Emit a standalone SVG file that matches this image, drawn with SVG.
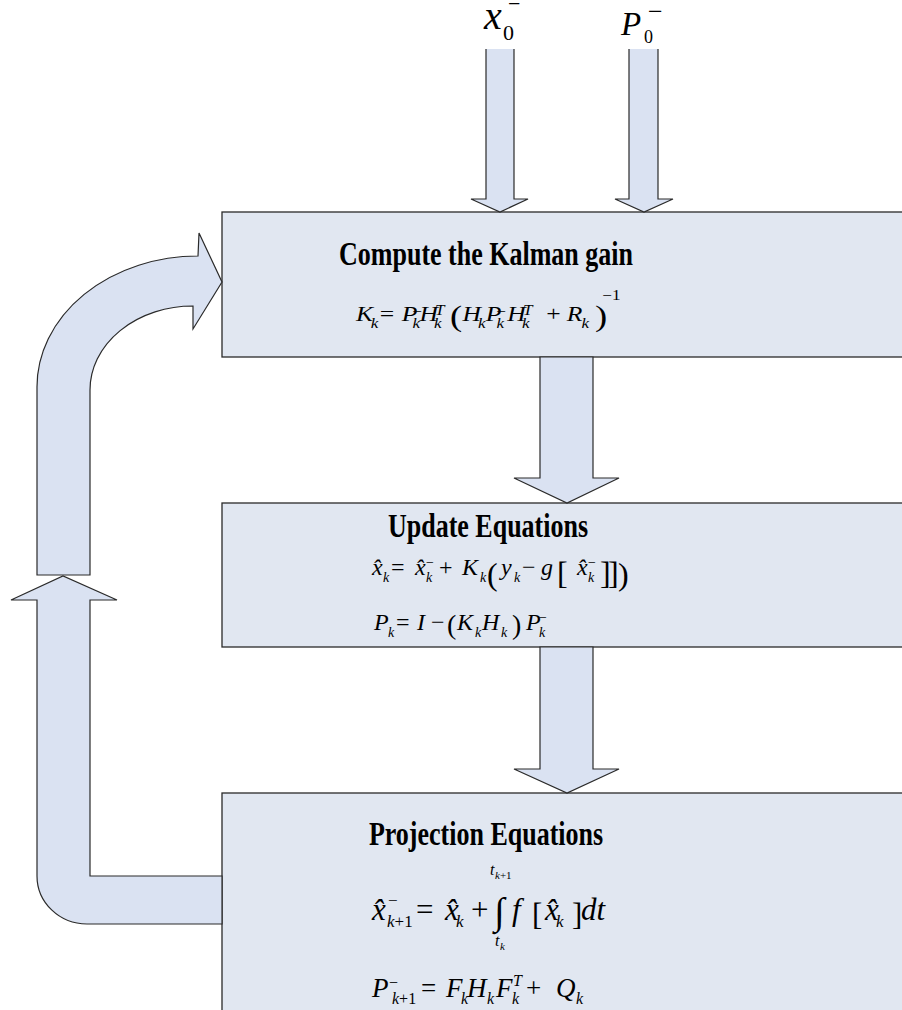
<svg xmlns="http://www.w3.org/2000/svg" width="902" height="1010" viewBox="0 0 902 1010">
<style>
.box{fill:#E1E7F1;stroke:#2a2a2a;stroke-width:1.3}
.arr{fill:#DAE2F2;stroke:#2a2a2a;stroke-width:1.2;stroke-linejoin:miter}
.fill{fill:#DAE2F2;stroke:none}
.line{fill:none;stroke:#2a2a2a;stroke-width:1.2}
text{font-family:"Liberation Serif","Times New Roman",serif;fill:#000}
.i{font-style:italic}
.b{font-weight:bold}
.r{font-style:normal}
</style>
<rect width="902" height="1010" fill="#fff"/>

<g id="box-gain">
<rect class="box" x="222" y="212" width="700" height="145"/>
<text class="b" font-size="26" text-anchor="middle" transform="translate(486,265) scale(1,1.28)">Compute the Kalman gain</text>
<text class="i" font-size="21" transform="translate(356,321) scale(1.22,1)">
<tspan x="0" y="0">K</tspan><tspan x="12" y="7" font-size="14">k</tspan>
<tspan x="19.5" y="0" class="r">=</tspan>
<tspan x="37.6" y="0">P</tspan><tspan x="46.4" y="-5" font-size="14" class="r">−</tspan><tspan x="46.4" y="7" font-size="14">k</tspan>
<tspan x="52" y="0">H</tspan><tspan x="64.8" y="-6" font-size="14">T</tspan><tspan x="64" y="7" font-size="14">k</tspan>
<tspan x="77" y="5" font-size="30" class="r">(</tspan>
<tspan x="87.2" y="0">H</tspan><tspan x="100" y="7" font-size="14">k</tspan>
<tspan x="106.4" y="0">P</tspan><tspan x="115.2" y="-5" font-size="14" class="r">−</tspan><tspan x="115.2" y="7" font-size="14">k</tspan>
<tspan x="124" y="0">H</tspan><tspan x="136.8" y="-6" font-size="14">T</tspan><tspan x="136" y="7" font-size="14">k</tspan>
<tspan x="156" y="0" class="r">+</tspan>
<tspan x="172.8" y="0">R</tspan><tspan x="184.8" y="7" font-size="14">k</tspan>
<tspan x="196" y="5" font-size="30" class="r">)</tspan>
<tspan x="202" y="-21" font-size="14" class="r">−1</tspan>
</text>
</g>

<g id="box-update">
<rect class="box" x="222" y="503" width="700" height="144"/>
<text class="b" font-size="26" text-anchor="middle" transform="translate(488,537) scale(1,1.28)">Update Equations</text>
<text class="i" font-size="24">
<tspan x="372" y="575">x̂</tspan><tspan x="383" y="582" font-size="14">k</tspan>
<tspan x="391" y="575" class="r">=</tspan>
<tspan x="415" y="575">x̂</tspan><tspan x="426" y="567" font-size="14" class="r">−</tspan><tspan x="426" y="582" font-size="14">k</tspan>
<tspan x="439" y="575" class="r">+</tspan>
<tspan x="462" y="575">K</tspan><tspan x="480" y="582" font-size="14">k</tspan>
<tspan x="487" y="585" font-size="32" class="r">(</tspan>
<tspan x="501" y="575">y</tspan><tspan x="514" y="582" font-size="14">k</tspan>
<tspan x="522" y="575" class="r">−</tspan>
<tspan x="541" y="575">g</tspan>
<tspan x="557" y="584" font-size="32" class="r">[</tspan>
<tspan x="577" y="575">x̂</tspan><tspan x="588" y="567" font-size="14" class="r">−</tspan><tspan x="588" y="582" font-size="14">k</tspan>
<tspan x="600" y="584" font-size="32" class="r">]</tspan><tspan x="608" y="584" font-size="32" class="r">]</tspan><tspan x="618" y="585" font-size="32" class="r">)</tspan>
</text>
<text class="i" font-size="24">
<tspan x="374" y="630">P</tspan><tspan x="388" y="637" font-size="14">k</tspan>
<tspan x="396" y="630" class="r">=</tspan>
<tspan x="417" y="630">I</tspan>
<tspan x="431" y="630" class="r">−</tspan>
<tspan x="447" y="634" font-size="28" class="r">(</tspan>
<tspan x="457" y="630">K</tspan><tspan x="475" y="637" font-size="14">k</tspan>
<tspan x="482" y="630">H</tspan><tspan x="501" y="637" font-size="14">k</tspan>
<tspan x="512" y="634" font-size="28" class="r">)</tspan>
<tspan x="526" y="630">P</tspan><tspan x="539" y="622" font-size="14" class="r">−</tspan><tspan x="539" y="637" font-size="14">k</tspan>
</text>
</g>

<g id="box-projection">
<rect class="box" x="222" y="793" width="700" height="240"/>
<text class="b" font-size="26" text-anchor="middle" transform="translate(486,845) scale(1,1.28)">Projection Equations</text>
<text class="i" font-size="31">
<tspan x="372" y="920">x̂</tspan><tspan x="388" y="906" font-size="17" class="r">−</tspan><tspan x="387" y="927" font-size="17">k</tspan><tspan font-size="17" class="r">+1</tspan>
<tspan x="416" y="920" class="r">=</tspan>
<tspan x="445" y="920">x̂</tspan><tspan x="456" y="927" font-size="17">k</tspan>
<tspan x="471" y="920" class="r">+</tspan>
<tspan x="494" y="924" font-size="38" class="r">∫</tspan>
<tspan x="512" y="920">f</tspan>
<tspan x="532" y="925" class="r">[</tspan>
<tspan x="545" y="920">x̂</tspan><tspan x="556" y="927" font-size="17">k</tspan>
<tspan x="572" y="925" class="r">]</tspan>
<tspan x="581" y="920">dt</tspan>
</text>
<text class="i" font-size="16"><tspan x="490" y="875">t</tspan><tspan x="495" y="879" font-size="11">k</tspan><tspan font-size="11" class="r">+1</tspan></text>
<text class="i" font-size="16"><tspan x="495" y="946">t</tspan><tspan x="500" y="950" font-size="11">k</tspan></text>
<text class="i" font-size="27">
<tspan x="372" y="997">P</tspan><tspan x="389" y="988" font-size="16" class="r">−</tspan><tspan x="392" y="1004" font-size="16">k</tspan><tspan font-size="16" class="r">+1</tspan>
<tspan x="421" y="997" class="r">=</tspan>
<tspan x="446" y="997">F</tspan><tspan x="461" y="1004" font-size="16">k</tspan>
<tspan x="467" y="997">H</tspan><tspan x="487" y="1004" font-size="16">k</tspan>
<tspan x="496" y="997">F</tspan><tspan x="513" y="986" font-size="16">T</tspan><tspan x="512" y="1004" font-size="16">k</tspan>
<tspan x="526" y="997" class="r">+</tspan>
<tspan x="556" y="997">Q</tspan><tspan x="576" y="1004" font-size="16">k</tspan>
</text>
</g>

<g id="input-x0">
<text class="i" font-size="40" x="484" y="29">x</text>
<text font-size="22" x="503" y="40">0</text>
<text font-size="22" x="508" y="10.5">−</text>
</g>
<g id="input-P0">
<text class="i" font-size="33" x="621" y="35">P</text>
<text font-size="18" x="644" y="43">0</text>
<text font-size="26" x="648" y="19.5">−</text>
</g>

<g id="connectors">
<polygon class="fill" points="486,49 514,49 514,199 528,199 500,212 471,199 486,199"/>
<polyline class="line" points="514,49 514,199 528,199 500,212 471,199 486,199 486,49"/>
<polygon class="fill" points="629,49 658,49 658,199 673,199 644,212 615,199 629,199"/>
<polyline class="line" points="658,49 658,199 673,199 644,212 615,199 629,199 629,49"/>
<polygon class="arr" points="540,357 593,357 593,478 619,478 567,503 514,478 540,478"/>
<polygon class="arr" points="540,647 593,647 593,769 619,769 567,793 514,769 540,769"/>
<path class="arr" d="M37,575 L37,387 A161,131 0 0 1 198,256 L199,233 L222,282 L193,329 L193,306 A103,84 0 0 0 90,390 L90,575 Z"/>
<path class="arr" d="M222,876 L90,876 L90,600 L117,600 L63,576 L11,600 L37,600 L37,876 A50,48 0 0 0 87,924 L222,924 Z"/>
</g>
</svg>
